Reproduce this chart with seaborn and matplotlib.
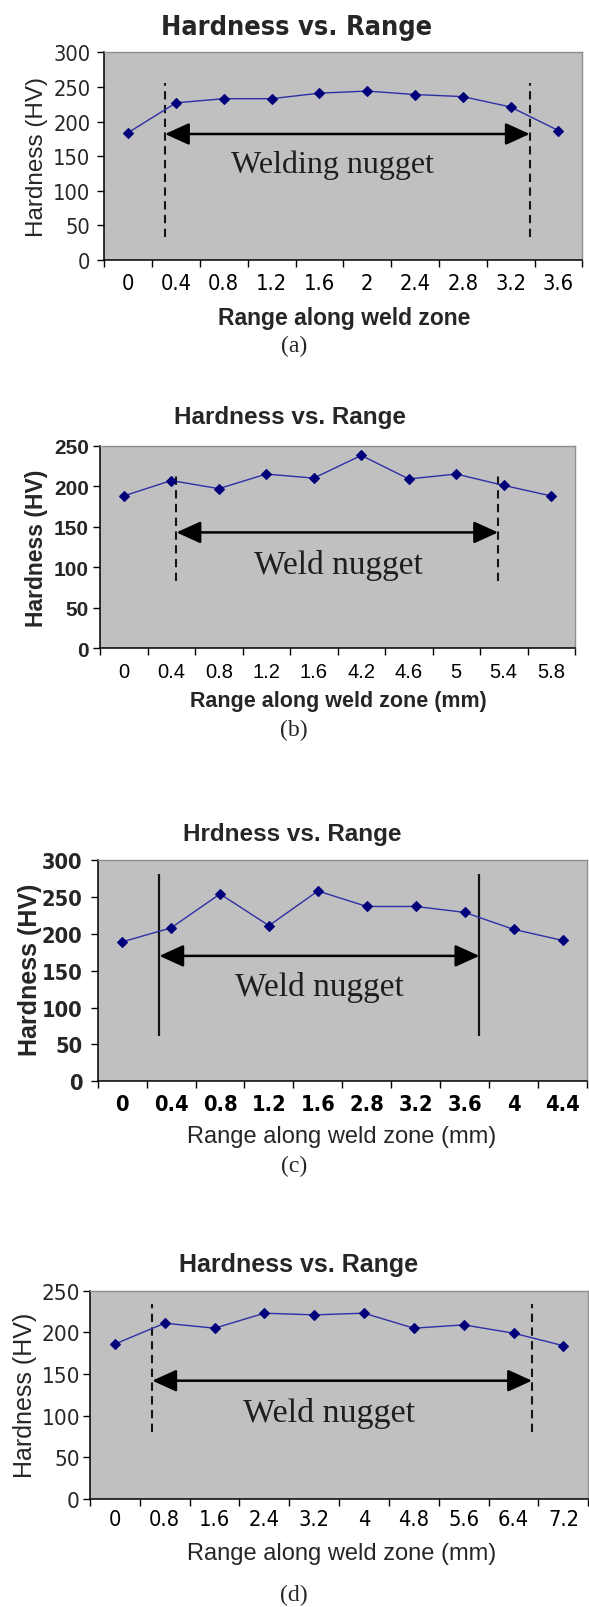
import numpy as np
import matplotlib
matplotlib.use("Agg")
import matplotlib.pyplot as plt
import seaborn as sns
from matplotlib import font_manager
from matplotlib.ticker import FixedLocator

# ---- data -----------------------------------------------------------------
labels_a = ["0", "0.4", "0.8", "1.2", "1.6", "2", "2.4", "2.8", "3.2", "3.6"]
hardness_a = [184, 227, 233, 233, 241, 244, 239, 236, 221, 187]

labels_b = ["0", "0.4", "0.8", "1.2", "1.6", "4.2", "4.6", "5", "5.4", "5.8"]
hardness_b = [188, 207, 197, 215, 210, 238, 209, 215, 201, 188]

labels_c = ["0", "0.4", "0.8", "1.2", "1.6", "2.8", "3.2", "3.6", "4", "4.4"]
hardness_c = [189, 208, 254, 211, 258, 237, 237, 229, 206, 191]

labels_d = ["0", "0.8", "1.6", "2.4", "3.2", "4", "4.8", "5.6", "6.4", "7.2"]
hardness_d = [186, 211, 205, 223, 221, 223, 205, 209, 199, 184]

titles = ["Hardness vs. Range", "Hardness vs. Range",
          "Hrdness vs. Range", "Hardness vs. Range"]
xlabels = ["Range along weld zone", "Range along weld zone (mm)",
           "Range along weld zone (mm)", "Range along weld zone (mm)"]
ylabel = "Hardness (HV)"
panel_tags = ["(a)", "(b)", "(c)", "(d)"]
y_max = [300, 250, 300, 250]
y_step = 50

# weld nugget zone markers (category units on x, HV on y)
nugget_text = ["Welding nugget", "Weld nugget", "Weld nugget", "Weld nugget"]
nugget_left = [0.77, 1.11, 0.76, 0.75]
nugget_right = [8.40, 7.88, 7.30, 8.37]
boundary_low = [33, 83, 62, 81]
boundary_high = [256, 215, 281, 234]
arrow_level = [182, 143, 170, 142]
text_x = [4.27, 4.51, 4.03, 4.29]
text_y = [138, 104, 129, 104]

# ---- layout (pixels) --------------------------------------------------------
W, H, DPI = 589, 1608, 100
# left, top, right, bottom of each plot area
boxes = [(104.3, 53.3, 582.3, 261.0),
         (100.0, 446.7, 575.0, 649.3),
         (97.7, 861.0, 587.0, 1082.3),
         (90.0, 1291.7, 588.3, 1500.0)]
title_pos = [(297, 28), (290, 418), (292, 835), (299, 1265)]
ylabel_pos = [(37, 157), (37, 548), (30, 970), (25, 1395)]
xlabel_pos = [(344, 318), (338, 702), (342, 1137), (342, 1554)]
tag_pos = [(294, 346), (294, 730), (294, 1166), (294, 1595)]

sns.set_style("white")
plt.rcParams["font.family"] = ["Liberation Sans", "DejaVu Sans"]

_names = {f.name for f in font_manager.fontManager.ttflist}
if "Liberation Sans Narrow" in _names:
    NARROW = dict(family=["Liberation Sans Narrow", "DejaVu Sans"])
    NSCALE = 1.0
else:
    NARROW = dict(family=["DejaVu Sans"], fontstretch="condensed")
    NSCALE = 0.95
SANS = dict(family=["Liberation Sans", "DejaVu Sans"])
SERIF = dict(family=["Liberation Serif", "DejaVu Serif"])


def narrow(size, weight="normal"):
    return dict(NARROW, fontsize=size * NSCALE, fontweight=weight)


def sans(size, weight="normal"):
    return dict(SANS, fontsize=size, fontweight=weight)


# per-panel text styling
title_font = [narrow(20.5, "bold"), sans(17.5, "bold"), sans(17.5, "bold"), sans(18, "bold")]
ylabel_font = [sans(17.5), sans(16.5, "bold"), sans(18, "bold"), sans(18)]
xlabel_font = [sans(16.5, "bold"), sans(15.5, "bold"), sans(17), sans(17)]
ytick_font = [narrow(16.5), sans(15, "bold"), narrow(16.5, "bold"), narrow(17)]
xtick_font = [narrow(16.5), sans(14.5), narrow(16.5, "bold"), narrow(16.5)]
xtick_pad = [9.4, 10.2, 9.0, 7.3]
ytick_pad = [5.0, 3.0, 6.0, 2.2]
boundary_style = [(0, (4, 2.6)), (0, (4, 2.6)), "solid", (0, (4, 2.6))]
nugget_size = [23, 24, 24, 24.5]

MARKER_COLOR = "#00007a"
LINE_COLOR = "#2e2ea6"
PLOT_BG = "#c0c0c0"

fig = plt.figure(figsize=(W / DPI, H / DPI), dpi=DPI)
fig.patch.set_facecolor("white")


def fx(px):
    return px / W


def fy(py):
    return 1 - py / H


panels = [(labels_a, hardness_a), (labels_b, hardness_b),
          (labels_c, hardness_c), (labels_d, hardness_d)]

for i, (labels, values) in enumerate(panels):
    l, t, r, b = boxes[i]
    ax = fig.add_axes([fx(l), fy(b), (r - l) / W, (b - t) / H])
    ax.set_facecolor(PLOT_BG)

    sns.pointplot(x=labels, y=values, color=MARKER_COLOR, markers="D",
                  linestyles="-", errorbar=None, markersize=5.6,
                  markeredgewidth=0.8, linewidth=1.0, ax=ax)
    for ln in ax.lines:
        ln.set_color(LINE_COLOR)
        ln.set_markerfacecolor(MARKER_COLOR)
        ln.set_markeredgecolor(MARKER_COLOR)
        ln.set_zorder(4)

    n = len(labels)
    ax.set_xlim(-0.5, n - 0.5)
    ax.set_ylim(0, y_max[i])

    # nugget boundaries, arrow and caption
    ax.vlines([nugget_left[i], nugget_right[i]], boundary_low[i], boundary_high[i],
              colors="#151515", linestyles=boundary_style[i],
              linewidth=1.5 if i != 2 else 1.6, zorder=3)
    ax.annotate("", xy=(nugget_right[i], arrow_level[i]),
                xytext=(nugget_left[i], arrow_level[i]),
                arrowprops=dict(arrowstyle="<|-|>,head_length=1.1,head_width=0.5",
                                mutation_scale=13.5, lw=1.8, color="black",
                                shrinkA=0, shrinkB=0), zorder=3)
    ax.text(text_x[i], text_y[i], nugget_text[i], ha="center", va="center",
            color="#1e1e1e", fontsize=nugget_size[i], **SERIF)

    # axes and ticks
    yt = np.arange(0, y_max[i] + 1, y_step)
    ax.set_yticks(yt)
    ax.set_yticklabels([str(v) for v in yt], **ytick_font[i])
    ax.set_xticks(range(n))
    ax.set_xticklabels(labels, **xtick_font[i])
    ax.xaxis.set_minor_locator(FixedLocator(np.arange(-0.5, n, 1.0)))
    ax.tick_params(axis="x", which="major", length=0, pad=xtick_pad[i], colors="black")
    ax.tick_params(axis="x", which="minor", length=5, width=1.0, color="black",
                   direction="out", bottom=True)
    ax.tick_params(axis="y", which="major", length=5, width=1.0, color="black",
                   direction="out", left=True, pad=ytick_pad[i])
    ax.set_xlabel("")
    ax.set_ylabel("")
    ax.grid(False)
    for side in ("left", "bottom"):
        ax.spines[side].set_color("black")
        ax.spines[side].set_linewidth(1.1)
    for side in ("top", "right"):
        ax.spines[side].set_color("#8e8e8e")
        ax.spines[side].set_linewidth(1.0)
        ax.spines[side].set_visible(True)

    # titles and labels
    tx, ty = title_pos[i]
    fig.text(fx(tx), fy(ty), titles[i], ha="center", va="center", **title_font[i])
    yx, yy = ylabel_pos[i]
    fig.text(fx(yx), fy(yy), ylabel, ha="center", va="center", rotation=90,
             **ylabel_font[i])
    xx, xy = xlabel_pos[i]
    fig.text(fx(xx), fy(xy), xlabels[i], ha="center", va="center", **xlabel_font[i])
    gx, gy = tag_pos[i]
    fig.text(fx(gx), fy(gy), panel_tags[i], ha="center", va="center",
             fontsize=17, **SERIF)

fig.savefig("out.png", dpi=DPI, facecolor="white")
